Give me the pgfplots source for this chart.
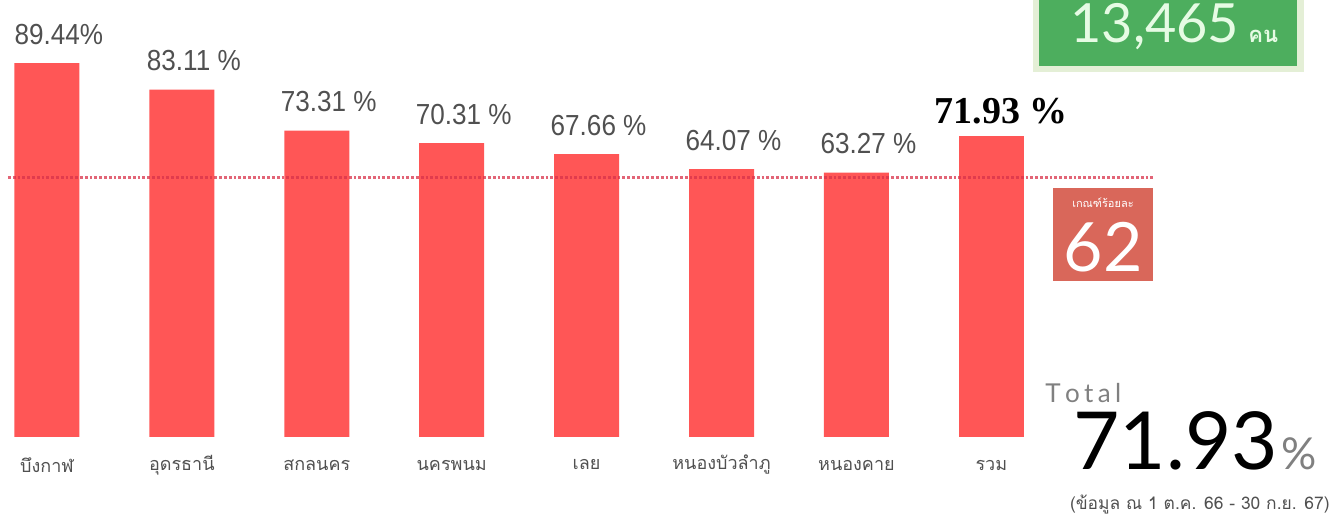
\documentclass[border=0pt]{standalone}
\usepackage{pgfplots}
\pgfplotsset{compat=1.18}
\usepackage{fontspec}
\setmainfont{Liberation Sans}
\newfontfamily\thai[Script=Thai]{Loma}
\newfontfamily\lab[FakeStretch=0.9]{Liberation Sans}
\newfontfamily\bigf{Lato}
\newfontfamily\serifb{Liberation Serif}

\definecolor{barred}{HTML}{FF5656}
\definecolor{dotred}{HTML}{D8324A}
\definecolor{labgray}{HTML}{505050}
\definecolor{boxgreen}{HTML}{4DAE5E}
\definecolor{greenedge}{HTML}{E4EFD6}
\definecolor{numgreen}{HTML}{E6FBE4}
\definecolor{boxred}{HTML}{D9675A}

\begin{document}
\begin{tikzpicture}
\begin{axis}[
    at={(0,0)}, anchor=south west,
    scale only axis, width=664.5pt, height=259.5pt,
    xmin=-0.348, xmax=9.503, ymin=-19.62, ymax=104.55,
    axis line style={draw=none}, tick style={draw=none},
    ytick=\empty, xtick={0,...,7},
    xticklabels={บึงกาฬ,อุดรธานี,สกลนคร,นครพนม,เลย,หนองบัวลำภู,หนองคาย,รวม},
    xticklabel style={font=\thai\fontsize{9}{9}\selectfont, text=labgray,
        anchor=center, yshift=27pt},
    clip=false
]
% provinces
\addplot[ybar, bar width=32.5pt, bar shift=0pt, fill=barred, draw=none,
    point meta=explicit symbolic, nodes near coords,
    every node near coord/.append style={font=\lab\fontsize{14.5}{14.5}\selectfont,
        text=labgray, inner sep=0pt, xshift=6pt, yshift=9pt}]
coordinates {
    (0,89.44) [89.44\%]
    (1,83.11) [83.11 \%]
    (2,73.31) [73.31 \%]
    (3,70.31) [70.31 \%]
    (4,67.66) [67.66 \%]
    (5,64.07) [64.07 \%]
    (6,63.27) [63.27 \%]
};
% total
\addplot[ybar, bar width=32.5pt, bar shift=0pt, fill=barred, draw=none,
    point meta=explicit symbolic, nodes near coords,
    every node near coord/.append style={font=\serifb\bfseries\fontsize{19}{19}\selectfont,
        text=black, inner sep=0pt, xshift=5pt, yshift=6pt}]
coordinates {(7,71.93) [71.93 \%]};
% threshold 62
\addplot[draw=dotred, line width=1.4pt, dash pattern=on 1.4pt off 1pt, opacity=0.75]
coordinates {(-0.289,62) (8.21,62)};
\end{axis}

\begin{scope}[x=0.5pt, y=-0.5pt, shift={(0pt,259.5pt)}]
  % green box
  \fill[greenedge] (1033,-10) rectangle (1304,72);
  \fill[boxgreen] (1039,-10) rectangle (1297,66);
  \node[anchor=base west, inner sep=0pt, text=numgreen,
      font=\bigf\fontsize{27}{27}\selectfont] at (1070,43) {13,465};
  \node[anchor=base west, inner sep=0pt, text=numgreen,
      font=\thai\bfseries\fontsize{11}{11}\selectfont] at (1248,43) {คน};
  % red box
  \fill[boxred] (1053,188) rectangle (1153,281);
  \node[inner sep=0pt, text=white, font=\thai\fontsize{5.5}{5.5}\selectfont]
      at (1103,203) {เกณฑ์ร้อยละ};
  \node[anchor=base, inner sep=0pt, text=white,
      font=\bigf\fontsize{34}{34}\selectfont] at (1103,272) {62};
  % total
  \node[anchor=base west, inner sep=0pt, text=gray,
      font=\bigf\fontsize{13}{13}\selectfont] at (1045,403) {T\,o\,t\,a\,l};
  \node[anchor=base west, inner sep=0pt, text=black,
      font=\bigf\fontsize{40}{40}\selectfont] at (1073,470) {71.93};
  \node[anchor=base west, inner sep=0pt, text=gray,
      font=\bigf\fontsize{22}{22}\selectfont] at (1281,470) {\%};
  \node[anchor=base east, inner sep=0pt, text=labgray,
      font=\thai\fontsize{8.7}{8.7}\selectfont] at (1330,510)
      {(ข้อมูล ณ 1 ต.ค. 66 - 30 ก.ย. 67)};
\end{scope}
\pgfresetboundingbox
\path (0pt,0pt) rectangle (664.5pt,259.5pt);
\end{tikzpicture}
\end{document}
